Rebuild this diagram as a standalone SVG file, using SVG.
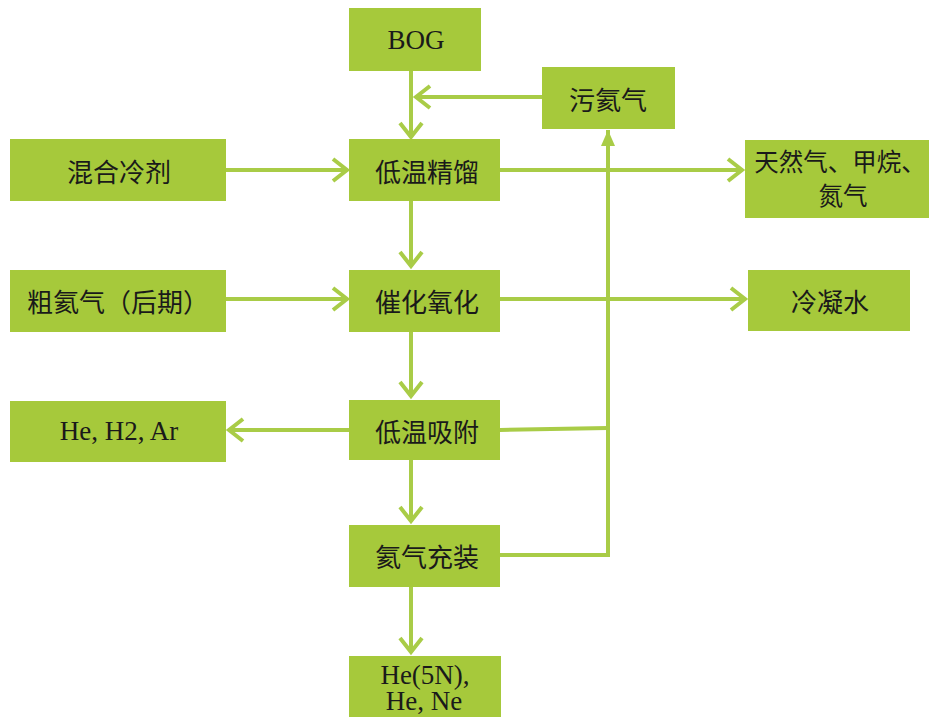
<svg xmlns="http://www.w3.org/2000/svg" width="929" height="717" viewBox="0 0 929 717">
<style>
.box{fill:#a6c93b}
.zh{font-family:"Noto Sans CJK SC","Noto Sans",sans-serif;font-size:26px;fill:#1a1a1a;text-anchor:middle;dominant-baseline:central}
.zs{font-size:24.5px}
.la{font-family:"Liberation Serif","Times New Roman",serif;font-size:27px;fill:#1a1a1a;text-anchor:middle;dominant-baseline:central}
.ln{fill:none;stroke:#a9cc47;stroke-width:4}
</style>
<defs>
<marker id="chev" markerUnits="userSpaceOnUse" markerWidth="30" markerHeight="30" viewBox="-20 -15 24 30" refX="0" refY="0" orient="auto">
<path d="M-14,-11 L0,0 L-14,11" fill="none" stroke="#a9cc47" stroke-width="4"/>
</marker>
<marker id="tri" markerUnits="userSpaceOnUse" markerWidth="30" markerHeight="30" viewBox="-20 -15 24 30" refX="0" refY="0" orient="auto">
<path d="M-16,-7 L0,0 L-16,7 Z" fill="#a9cc47"/>
</marker>
</defs>
<g id="connectors">
<line class="ln" x1="411" y1="71" x2="411" y2="137" marker-end="url(#chev)"/>
<line class="ln" x1="542" y1="97" x2="416" y2="97" marker-end="url(#chev)"/>
<line class="ln" x1="226" y1="170" x2="347" y2="170" marker-end="url(#chev)"/>
<line class="ln" x1="500" y1="170" x2="742" y2="170" marker-end="url(#chev)"/>
<line class="ln" x1="411" y1="201" x2="411" y2="266" marker-end="url(#chev)"/>
<line class="ln" x1="226" y1="299" x2="347" y2="299" marker-end="url(#chev)"/>
<line class="ln" x1="500" y1="299" x2="745" y2="299" marker-end="url(#chev)"/>
<line class="ln" x1="411" y1="332" x2="411" y2="396" marker-end="url(#chev)"/>
<line class="ln" x1="349" y1="430" x2="229" y2="430" marker-end="url(#chev)"/>
<line class="ln" x1="411" y1="460" x2="411" y2="521" marker-end="url(#chev)"/>
<line class="ln" x1="411" y1="587" x2="411" y2="652" marker-end="url(#chev)"/>
<polyline class="ln" points="500,430 608,428"/>
<polyline class="ln" points="500,555 608,555 608,130" marker-end="url(#tri)"/>
</g>
<g id="n-bog"><rect class="box" x="349" y="8" width="132" height="63"/><text class="la" x="416" y="40">BOG</text></g>
<g id="n-wuhai"><rect class="box" x="542" y="67" width="133" height="62"/><text class="zh" x="608" y="98">污氦气</text></g>
<g id="n-hunhe"><rect class="box" x="10" y="139" width="216" height="62"/><text class="zh" x="119" y="170">混合冷剂</text></g>
<g id="n-jingliu"><rect class="box" x="349" y="139" width="151" height="62"/><text class="zh" x="427" y="170">低温精馏</text></g>
<g id="n-tianranqi"><rect class="box" x="745" y="140" width="184" height="78"/><text class="zh zs" x="840" y="160">天然气、甲烷、</text><text class="zh zs" x="843" y="194">氮气</text></g>
<g id="n-cuhai"><rect class="box" x="10" y="270" width="216" height="62"/><text class="zh" x="118" y="300">粗氦气（后期）</text></g>
<g id="n-cuihua"><rect class="box" x="349" y="270" width="151" height="62"/><text class="zh" x="427" y="300">催化氧化</text></g>
<g id="n-lengning"><rect class="box" x="748" y="270" width="162" height="61"/><text class="zh" x="830" y="300">冷凝水</text></g>
<g id="n-hehar"><rect class="box" x="10" y="401" width="216" height="61"/><text class="la" x="119" y="431">He, H2, Ar</text></g>
<g id="n-xifu"><rect class="box" x="349" y="400" width="151" height="60"/><text class="zh" x="427" y="430">低温吸附</text></g>
<g id="n-chongzhuang"><rect class="box" x="349" y="525" width="151" height="62"/><text class="zh" x="427" y="555">氦气充装</text></g>
<g id="n-he5n"><rect class="box" x="349" y="656" width="152" height="61"/><text class="la" x="425" y="675">He(5N),</text><text class="la" x="424" y="701">He, Ne</text></g>
</svg>
